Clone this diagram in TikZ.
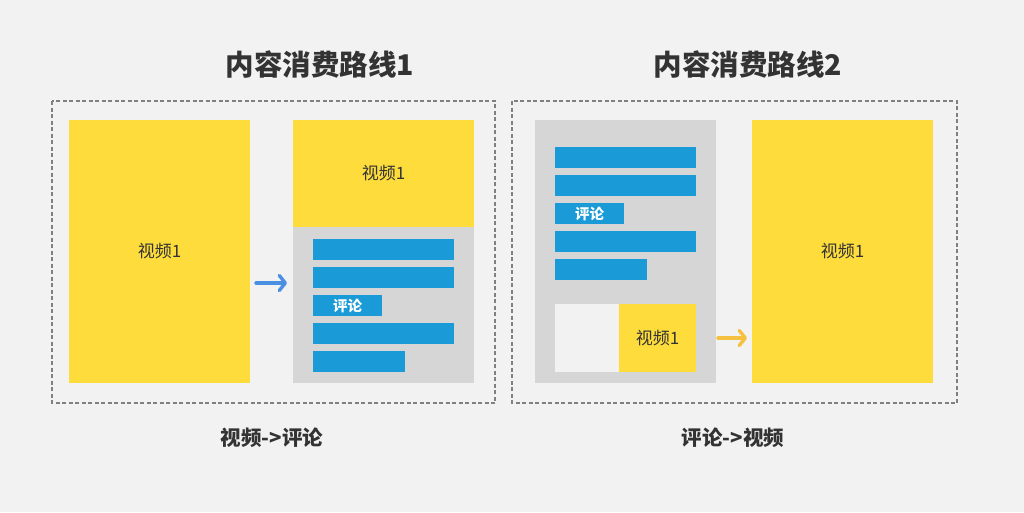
\documentclass[tikz,border=0pt]{standalone}
\usepackage{fontspec}
\setmainfont{Noto Sans CJK SC}
\usetikzlibrary{arrows.meta}
\definecolor{bg}{HTML}{F2F2F2}
\definecolor{vyellow}{HTML}{FDDC3C}
\definecolor{cblue}{HTML}{1A9BD7}
\definecolor{pgray}{HTML}{D6D6D6}
\definecolor{txt}{HTML}{333333}
\definecolor{arrblue}{HTML}{4A90E2}
\definecolor{arryellow}{HTML}{F4C23F}
\definecolor{dashgray}{HTML}{808080}
\tikzset{
  box/.style={rectangle, inner sep=0pt, outer sep=0pt, draw=none},
  video/.style={box, fill=vyellow, font=\fontsize{17}{19}\selectfont, text=txt},
  panel/.style={box, fill=pgray},
  bar/.style={box, fill=cblue, minimum height=21pt},
  frame/.style={draw=dashgray, line width=1.2pt, dash pattern=on 4pt off 2.5pt},
  title/.style={font=\bfseries\fontsize{28.5}{32}\selectfont, text=txt},
  caption/.style={font=\bfseries\fontsize{20.5}{23}\selectfont, text=txt},
  flow/.style={line width=3.4pt, line cap=round, -{Straight Barb[length=6pt,width=15pt,round]}},
  barlabel/.style={text=white, font=\bfseries\fontsize{14.5}{16}\selectfont},
}
\begin{document}
\begin{tikzpicture}[x=1pt,y=-1pt]
\useasboundingbox[fill=bg] (0,0) rectangle (1024,512);

% titles
\node[title] (t1) at (320,64) {内容消费路线1};
\node[title] (t2) at (748,64) {内容消费路线2};

% frames
\draw[frame] (52,101) rectangle (495,403);
\draw[frame] (512,101) rectangle (957,403);

% ----- route 1 -----
\node[video, minimum width=181pt, minimum height=263pt] (v1) at (159.5,251.5) {视频1};
\node[panel, minimum width=181pt, minimum height=263pt] (p1) at (383.5,251.5) {};
\node[video, minimum width=181pt, minimum height=107pt] (v1top) at (383.5,173.5) {视频1};
\node[bar, minimum width=141pt] (b11) at (383.5,249.5) {};
\node[bar, minimum width=141pt] (b12) at (383.5,277.5) {};
\node[bar, barlabel, minimum width=69pt] (b13) at (347.5,305.5) {评论};
\node[bar, minimum width=141pt] (b14) at (383.5,333.5) {};
\node[bar, minimum width=92pt] (b15) at (359,361.5) {};
\coordinate (a1) at (0,283);
\draw[flow, draw=arrblue] ([xshift=6pt]v1.east |- a1) -- ([xshift=-6pt]p1.west |- a1);

% ----- route 2 -----
\node[panel, minimum width=181pt, minimum height=263pt] (p2) at (625.5,251.5) {};
\node[bar, minimum width=141pt] (b21) at (625.5,157.5) {};
\node[bar, minimum width=141pt] (b22) at (625.5,185.5) {};
\node[bar, barlabel, minimum width=69pt] (b23) at (589.5,213.5) {评论};
\node[bar, minimum width=141pt] (b24) at (625.5,241.5) {};
\node[bar, minimum width=92pt] (b25) at (601,269.5) {};
\node[box, fill=bg, minimum width=64pt, minimum height=68pt] (w2) at (587,338) {};
\node[video, minimum width=77pt, minimum height=68pt] (v2s) at (657.5,338) {视频1};
\node[video, minimum width=181pt, minimum height=263pt] (v2) at (842.5,251.5) {视频1};
\coordinate (a2) at (0,338);
\draw[flow, draw=arryellow] ([xshift=2pt]p2.east |- a2) -- ([xshift=-5pt]v2.west |- a2);

% captions
\node[caption] (c1) at (272,438) {视频->评论};
\node[caption] (c2) at (733,438) {评论->视频};
\end{tikzpicture}
\end{document}
